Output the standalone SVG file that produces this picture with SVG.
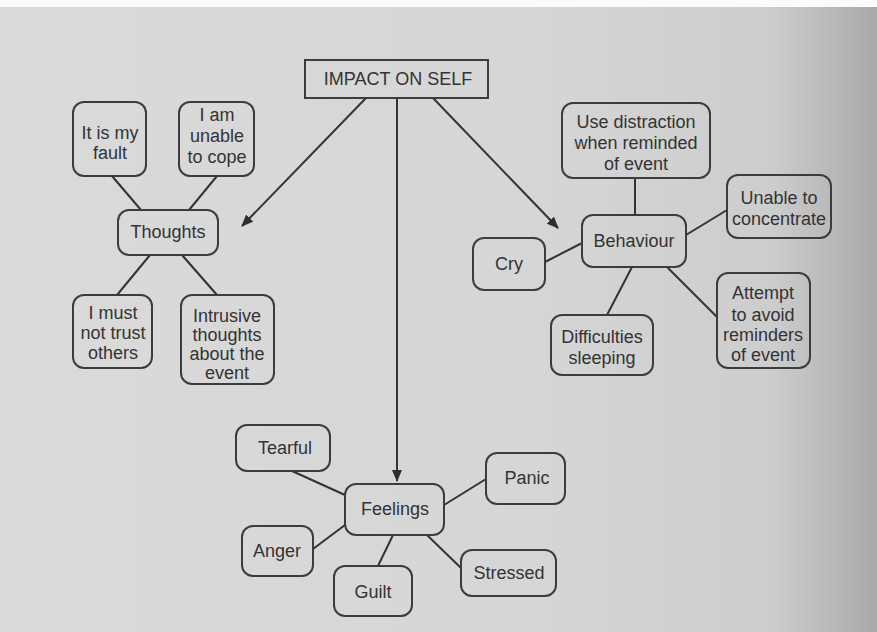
<svg xmlns="http://www.w3.org/2000/svg" width="877" height="632" viewBox="0 0 877 632">
<defs>
<linearGradient id="bg" x1="0" y1="0" x2="1" y2="0">
<stop offset="0" stop-color="#dadada"/>
<stop offset="0.6" stop-color="#d6d6d6"/>
<stop offset="0.88" stop-color="#cdcdcd"/>
<stop offset="1" stop-color="#a9a9a9"/>
</linearGradient>
<marker id="ah" viewBox="0 0 12 10" refX="11" refY="5" markerWidth="12" markerHeight="10" markerUnits="userSpaceOnUse" orient="auto">
<path d="M0,0 L12,5 L0,10 z" fill="#2e2e2e"/>
</marker>
<style>
.n rect{fill:none;stroke:#3c3c3c;stroke-width:2}
.n text{font-family:"Liberation Sans",Arial,sans-serif;font-size:18px;fill:#333;text-anchor:middle}
.c line{stroke:#333;stroke-width:2}
.c .a{marker-end:url(#ah)}
</style>
</defs>
<rect x="0" y="0" width="877" height="632" fill="url(#bg)"/>
<rect x="0" y="0" width="877" height="7" fill="#fbfbfb"/>

<g id="connectors" class="c">
<line class="a" x1="366" y1="98" x2="242" y2="226"/>
<line class="a" x1="397" y1="98" x2="397" y2="481"/>
<line class="a" x1="433" y1="98" x2="558" y2="228"/>
<line x1="112" y1="176" x2="141" y2="210"/>
<line x1="217" y1="176" x2="189" y2="210"/>
<line x1="150" y1="255" x2="117" y2="295"/>
<line x1="182" y1="255" x2="217" y2="295"/>
<line x1="635" y1="178" x2="635" y2="215"/>
<line x1="686" y1="235" x2="727" y2="210"/>
<line x1="582" y1="243" x2="545" y2="262"/>
<line x1="632" y1="267" x2="607" y2="315"/>
<line x1="667" y1="267" x2="717" y2="317"/>
<line x1="292" y1="471" x2="345" y2="495"/>
<line x1="313" y1="549" x2="345" y2="525"/>
<line x1="378" y1="566" x2="393" y2="535"/>
<line x1="427" y1="535" x2="461" y2="568"/>
<line x1="444" y1="505" x2="486" y2="479"/>
</g>

<g id="impact" class="n"><rect x="305" y="60" width="183" height="38"/><text x="398" y="85">IMPACT ON SELF</text></g>

<g id="thoughts" class="n"><rect x="118" y="210" width="100" height="45" rx="11"/><text x="168" y="238">Thoughts</text></g>
<g id="fault" class="n"><rect x="73" y="102" width="73" height="74" rx="11"/><text x="110" y="139">It is my</text><text x="110" y="159">fault</text></g>
<g id="cope" class="n"><rect x="179" y="102" width="75" height="74" rx="11"/><text x="217" y="121">I am</text><text x="217" y="142">unable</text><text x="217" y="163">to cope</text></g>
<g id="trust" class="n"><rect x="73" y="295" width="79" height="73" rx="11"/><text x="113" y="319">I must</text><text x="113" y="339">not trust</text><text x="113" y="359">others</text></g>
<g id="intrusive" class="n"><rect x="181" y="295" width="93" height="89" rx="11"/><text x="227" y="322">Intrusive</text><text x="227" y="341">thoughts</text><text x="227" y="360">about the</text><text x="227" y="379">event</text></g>

<g id="behaviour" class="n"><rect x="582" y="215" width="104" height="52" rx="11"/><text x="634" y="247">Behaviour</text></g>
<g id="distraction" class="n"><rect x="562" y="103" width="148" height="75" rx="11"/><text x="636" y="128">Use distraction</text><text x="636" y="149">when reminded</text><text x="636" y="170">of event</text></g>
<g id="concentrate" class="n"><rect x="727" y="175" width="104" height="63" rx="11"/><text x="779" y="204">Unable to</text><text x="779" y="225">concentrate</text></g>
<g id="cry" class="n"><rect x="473" y="238" width="72" height="52" rx="11"/><text x="509" y="270">Cry</text></g>
<g id="sleeping" class="n"><rect x="551" y="315" width="102" height="60" rx="11"/><text x="602" y="343">Difficulties</text><text x="602" y="364">sleeping</text></g>
<g id="avoid" class="n"><rect x="717" y="273" width="93" height="95" rx="11"/><text x="763" y="299">Attempt</text><text x="763" y="321">to avoid</text><text x="763" y="341">reminders</text><text x="763" y="361">of event</text></g>

<g id="feelings" class="n"><rect x="345" y="484" width="99" height="51" rx="11"/><text x="395" y="515">Feelings</text></g>
<g id="tearful" class="n"><rect x="236" y="425" width="94" height="46" rx="11"/><text x="285" y="454">Tearful</text></g>
<g id="panic" class="n"><rect x="486" y="453" width="79" height="51" rx="11"/><text x="527" y="484">Panic</text></g>
<g id="anger" class="n"><rect x="242" y="526" width="71" height="50" rx="11"/><text x="277" y="557">Anger</text></g>
<g id="guilt" class="n"><rect x="334" y="566" width="78" height="50" rx="11"/><text x="373" y="598">Guilt</text></g>
<g id="stressed" class="n"><rect x="461" y="550" width="95" height="46" rx="11"/><text x="509" y="579">Stressed</text></g>
</svg>
